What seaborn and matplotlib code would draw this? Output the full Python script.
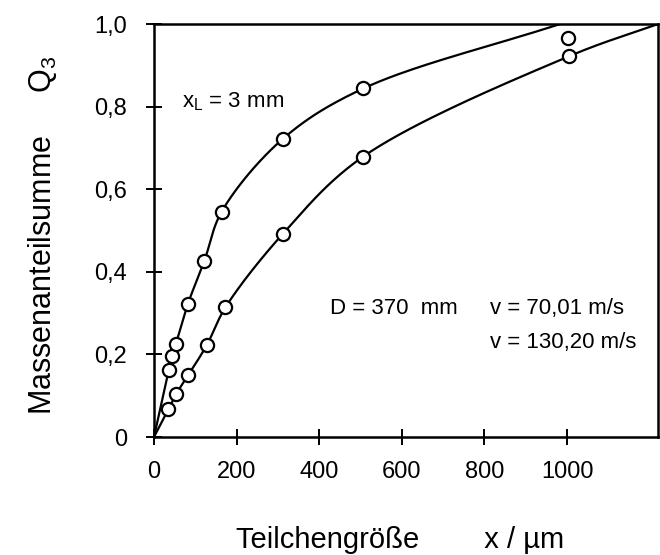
import numpy as np
import pandas as pd
import matplotlib
matplotlib.use("Agg")
import matplotlib.pyplot as plt
import seaborn as sns

# Messpunkte obere Kurve
x_oben = [36, 43, 53, 82, 122, 164, 312, 507, 1003]
q_oben = [0.162, 0.197, 0.226, 0.322, 0.427, 0.546, 0.722, 0.844, 0.966]

# Messpunkte untere Kurve
x_unten = [35, 53, 83, 128, 173, 312, 505, 1005]
q_unten = [0.067, 0.103, 0.150, 0.223, 0.314, 0.492, 0.678, 0.922]

# dort erreichen die gezeichneten Kurven Q3 = 1
x_ende_oben = 983
x_ende_unten = 1220

x_ticks = [0, 200, 400, 600, 800, 1000]
y_ticks = [0, 0.2, 0.4, 0.6, 0.8, 1.0]
y_tick_labels = ["0", "0,2", "0,4", "0,6", "0,8", "1,0"]

X_MAX = 1220


def glatte_kurve(x, q, x_ende, n_seg=40, alpha=0.5):
    # Catmull-Rom-Kurve (zentripetal) durch (0,0), die Messpunkte und (x_ende, 1)
    x = np.asarray(x, float)
    q = np.asarray(q, float)
    m = x < x_ende
    xs = np.concatenate([[0.0], x[m], [x_ende]])
    ys = np.concatenate([[0.0], q[m], [1.0]])
    # ungefaehr in Bildpunkten rechnen, damit beide Achsen gleich zaehlen
    sx, sy = 504 / X_MAX, 413.0
    P = np.column_stack([xs * sx, ys * sy])
    P = np.vstack([2 * P[0] - P[1], P, 2 * P[-1] - P[-2]])
    teile = []
    for i in range(len(P) - 3):
        p0, p1, p2, p3 = P[i:i + 4]
        t0 = 0.0
        t1 = t0 + np.linalg.norm(p1 - p0) ** alpha
        t2 = t1 + np.linalg.norm(p2 - p1) ** alpha
        t3 = t2 + np.linalg.norm(p3 - p2) ** alpha
        t = np.linspace(t1, t2, n_seg)[:, None]
        a1 = (t1 - t) / (t1 - t0) * p0 + (t - t0) / (t1 - t0) * p1
        a2 = (t2 - t) / (t2 - t1) * p1 + (t - t1) / (t2 - t1) * p2
        a3 = (t3 - t) / (t3 - t2) * p2 + (t - t2) / (t3 - t2) * p3
        b1 = (t2 - t) / (t2 - t0) * a1 + (t - t0) / (t2 - t0) * a2
        b2 = (t3 - t) / (t3 - t1) * a2 + (t - t1) / (t3 - t1) * a3
        c = (t2 - t) / (t2 - t1) * b1 + (t - t1) / (t2 - t1) * b2
        teile.append(c)
    C = np.vstack(teile)
    return C[:, 0] / sx, C[:, 1] / sy


sns.set_theme(style="ticks")
plt.rcParams["font.family"] = ["Liberation Sans", "DejaVu Sans"]
plt.rcParams["mathtext.default"] = "regular"
plt.rcParams["text.color"] = "black"
plt.rcParams["axes.labelcolor"] = "black"
plt.rcParams["xtick.color"] = "black"
plt.rcParams["ytick.color"] = "black"

fig = plt.figure(figsize=(6.6, 5.55), dpi=100)
ax = fig.add_axes([154 / 660, 1 - 437 / 555, 504 / 660, 413 / 555])

for xs, qs, xe in [(x_oben, q_oben, x_ende_oben), (x_unten, q_unten, x_ende_unten)]:
    xx, yy = glatte_kurve(xs, qs, xe)
    kurve = pd.DataFrame({"x": xx, "q": yy})
    sns.lineplot(data=kurve, x="x", y="q", ax=ax, color="black", lw=1.6,
                 sort=False, estimator=None, zorder=2)
    punkte = pd.DataFrame({"x": xs, "q": qs})
    sns.scatterplot(data=punkte, x="x", y="q", ax=ax, s=90, color="white",
                    edgecolor="black", linewidth=1.6, zorder=3, clip_on=False)

ax.set_xlim(0, X_MAX)
ax.set_ylim(0, 1.0)
ax.set_xticks(x_ticks)
ax.set_xticklabels([str(t) for t in x_ticks])
ax.set_yticks(y_ticks)
ax.set_yticklabels(y_tick_labels)
ax.tick_params(direction="inout", length=11, width=1.4, labelsize=17)
ax.tick_params(axis="y", pad=14)
ax.tick_params(axis="x", pad=12)
for sp in ax.spines.values():
    sp.set_color("black")
    sp.set_linewidth(1.8)
ax.set_xlabel("")
ax.set_ylabel("")

ax.text(68, 0.811, "x$_L$ = 3 mm", fontsize=16, ha="left", va="center")
ax.text(426, 0.312, "D = 370  mm", fontsize=16, ha="left", va="center")
ax.text(814, 0.312, "v = 70,01 m/s", fontsize=16, ha="left", va="center")
ax.text(814, 0.230, "v = 130,20 m/s", fontsize=16, ha="left", va="center")

fig.text(400 / 660, 1 - 540 / 555, "Teilchengröße        x / µm", fontsize=21,
         ha="center", va="center")
fig.text(43 / 660, 1 - 235 / 555, "Massenanteilsumme     Q$_3$", fontsize=22,
         ha="center", va="center", rotation=90)

fig.savefig("out.png", dpi=100)
